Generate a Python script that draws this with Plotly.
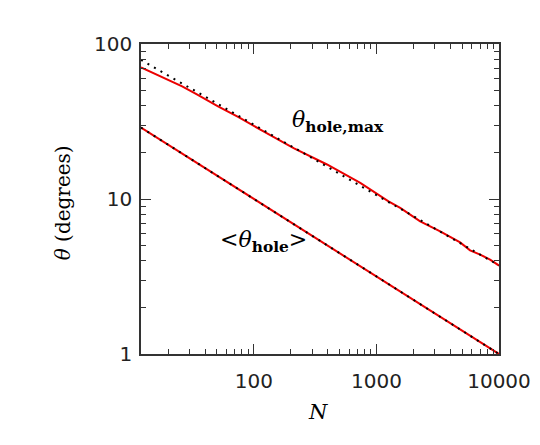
import plotly.graph_objects as go

# --- data ---
N_max = [12, 26, 34, 51, 75, 113, 211, 395, 738, 1074, 1255, 1563, 2275, 3311, 4819, 5808, 7015, 8453, 10000]
theta_max = [70.6, 53.3, 47.5, 39.6, 33.8, 28.0, 21.3, 16.7, 12.7, 10.4, 9.66, 8.76, 7.18, 6.18, 5.25, 4.66, 4.38, 4.06, 3.72]

N_max_fit = [12, 100, 1000, 10000]
theta_max_fit = [79.0, 30.2, 10.6, 3.73]

N_mean = [12, 100, 239, 1000, 10000]
theta_mean = [28.9, 10.0, 6.5, 3.16, 1.0]

N_mean_fit = [12, 100, 239, 1000, 10000]
theta_mean_fit = [28.9, 10.0, 6.47, 3.16, 1.0]

x_ticks = [100, 1000, 10000]
y_ticks = [1, 10, 100]

RED = 'rgb(235,0,0)'
AX = '#333333'
SERIF = 'DejaVu Serif'

fig = go.Figure()

# red curves (simulation)
fig.add_trace(go.Scatter(x=N_max, y=theta_max, mode='lines', line=dict(color=RED, width=2)))
fig.add_trace(go.Scatter(x=N_mean, y=theta_mean, mode='lines', line=dict(color=RED, width=2)))

# dotted power laws on top
dots = dict(color='black', width=2, dash='2px,5.5px')
fig.add_trace(go.Scatter(x=N_max_fit, y=theta_max_fit, mode='lines', line=dots))
fig.add_trace(go.Scatter(x=N_mean_fit, y=theta_mean_fit, mode='lines', line=dots))

axis_common = dict(
    type='log', showgrid=False, zeroline=False,
    showline=True, linecolor=AX, linewidth=1.5, mirror='allticks',
    ticks='inside', ticklen=10, tickwidth=1.2, tickcolor=AX,
    minor=dict(ticks='inside', ticklen=5, tickwidth=1, tickcolor=AX, dtick='D1', showgrid=False),
    tickfont=dict(family='DejaVu Sans', size=20, color='#222222'),
)

fig.update_xaxes(range=[1.0792, 4], tickvals=x_ticks, ticktext=[str(v) for v in x_ticks],
                 ticklabelstandoff=8, **axis_common)
fig.update_yaxes(range=[0, 2], tickvals=y_ticks, ticktext=[str(v) for v in y_ticks],
                 ticklabelstandoff=3, **axis_common)

ann = [
    dict(text='<i>θ</i><sub><b>hole,max</b></sub>', x=0.416, y=0.751, xanchor='left', yanchor='middle',
         font=dict(size=22)),
    dict(text='&lt;<i>θ</i><sub><b>hole</b></sub>&gt;', x=0.2145, y=0.362, xanchor='left', yanchor='middle',
         font=dict(size=22)),
    dict(text='<i>θ</i> (degrees)', x=-0.219, y=0.488, xanchor='center', yanchor='middle', textangle=-90,
         font=dict(size=20)),
    dict(text='<i>N</i>', x=0.494, y=-0.186, xanchor='center', yanchor='middle', font=dict(size=21)),
]
for a in ann:
    a['font'] = dict(family=SERIF, color='black', **a['font'])
    fig.add_annotation(xref='paper', yref='paper', showarrow=False, **a)

# page body adds ~8px offset, so margins are shifted to compensate
fig.update_layout(
    width=540, height=445, showlegend=False,
    margin=dict(l=133, r=49, t=36, b=99),
    plot_bgcolor='white', paper_bgcolor='white',
)

fig.write_html("out.html")
